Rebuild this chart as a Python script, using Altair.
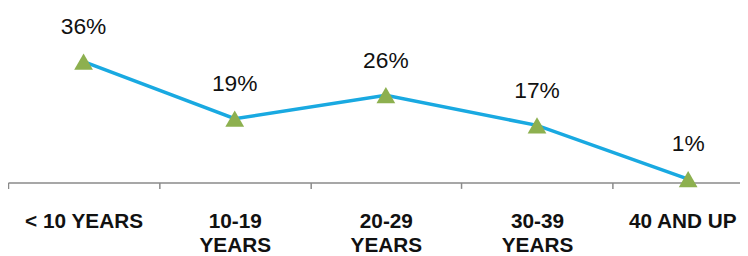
import altair as alt
import pandas as pd

categories = ["< 10 YEARS", "10-19|YEARS", "20-29|YEARS", "30-39|YEARS", "40 AND UP"]
values = [36, 19, 26, 17, 1]
labels = ["36%", "19%", "26%", "17%", "1%"]

df = pd.DataFrame({"cat": categories, "val": values, "lab": labels})

FONT = "Liberation Sans"

x = alt.X(
    "cat:N",
    sort=categories,
    scale=alt.Scale(type="band", range=[0, 764], paddingInner=0, paddingOuter=0),
    axis=alt.Axis(
        title=None,
        labelAngle=0,
        tickBand="extent",
        domainColor="#8a8a8a",
        domainWidth=1.5,
        tickColor="#8a8a8a",
        tickWidth=1.5,
        tickSize=6,
        labelPadding=23,
        labelFont=FONT,
        labelFontSize=21,
        labelFontWeight="bold",
        labelColor="#111111",
        labelLineHeight=24,
        labelBaseline="top",
        labelLimit=300,
        labelOffset={"condition": {"test": "datum.value === '40 AND UP'", "value": -6}, "value": 0},
        labelExpr="isValid(datum.value) ? split(datum.value, '|') : ''",
        grid=False,
    ),
)
y = alt.Y("val:Q", scale=alt.Scale(domain=[0, 51.6], nice=False, zero=True), axis=None)

base = alt.Chart(df).encode(x=x, y=y)

line = base.mark_line(color="#19A9E1", strokeWidth=3.5)
pts = base.mark_point(shape="triangle-up", filled=True, size=360, color="#8DB04F", opacity=1)
txt = base.mark_text(
    font=FONT, fontSize=23, color="#111111", dy=-28, baseline="alphabetic", align="center"
).encode(text="lab:N")

chart = (
    alt.layer(line, pts, txt)
    .properties(
        width=740,
        height=175,
        padding={"left": 0, "top": 0, "right": 0, "bottom": 73},
        autosize=alt.AutoSizeParams(type="none"),
    )
    .configure_view(stroke=None)
)

chart.save("out.html", embed_options={"renderer": "svg", "actions": False})
